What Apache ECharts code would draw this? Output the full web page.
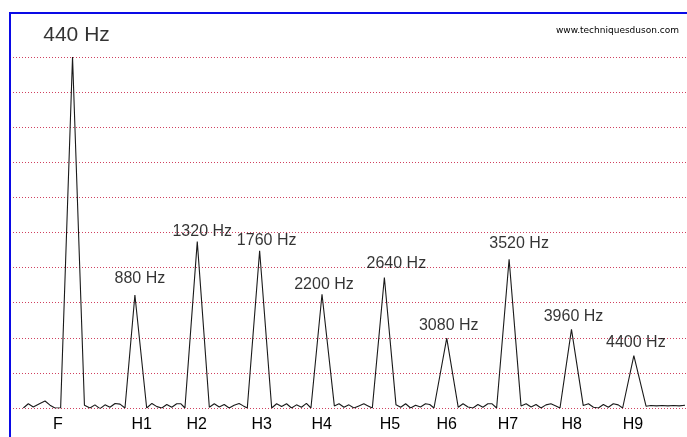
<!DOCTYPE html>
<html>
<head>
<meta charset="utf-8">
<script src="https://cdn.jsdelivr.net/npm/echarts@6/dist/echarts.min.js"></script>
<style>
html,body{margin:0;padding:0;background:#fff;}
#chart{width:687px;height:437px;}
</style>
</head>
<body>
<div id="chart"></div>
<script>
// Spectrum trace (frequency in Hz, relative amplitude)
const freqHz = [
  93, 128, 163, 210, 246, 281, 316, 356,
  440, 524,
  563, 598, 634, 669, 704, 740, 775, 810,
  880, 963,
  1000, 1035, 1070, 1105, 1140, 1175, 1205, 1233,
  1320, 1405,
  1440, 1475, 1510, 1545, 1580, 1615, 1645, 1673,
  1760, 1845,
  1880, 1915, 1950, 1985, 2020, 2055, 2090, 2122,
  2200, 2287,
  2320, 2355, 2390, 2425, 2460, 2495, 2525, 2555,
  2640, 2722,
  2755, 2790, 2825, 2860, 2895, 2930, 2960, 2990,
  3080, 3161,
  3195, 3230, 3265, 3300, 3335, 3370, 3400, 3432,
  3520, 3604,
  3640, 3675, 3710, 3745, 3780, 3815, 3850, 3879,
  3960, 4043,
  4080, 4115, 4150, 4185, 4220, 4255, 4290, 4321,
  4400, 4486,
  4520, 4560, 4600, 4640, 4680, 4720, 4761
];
const amplitude = [
  0.0, 0.12, 0.03, 0.13, 0.2, 0.08, 0.0, 0.0,
  10.0, 0.08,
  0.0, 0.09, -0.02, 0.09, 0.02, 0.13, 0.11, 0.0,
  3.22, 0.0,
  0.13, 0.04, 0.0, 0.1, 0.02, 0.12, 0.12, 0.0,
  4.74, 0.02,
  0.12, 0.03, 0.1, 0.0, 0.08, 0.13, 0.06, 0.0,
  4.48, 0.0,
  0.12, 0.04, 0.12, 0.0, 0.09, 0.02, 0.13, 0.0,
  3.24, 0.06,
  0.12, 0.02, 0.09, 0.0, 0.06, 0.12, 0.06, 0.0,
  3.72, 0.09,
  0.02, 0.12, 0.0, 0.08, 0.03, 0.12, 0.1, 0.0,
  1.99, 0.02,
  0.12, 0.03, 0.0, 0.1, 0.02, 0.12, 0.12, 0.0,
  4.24, 0.06,
  0.12, 0.03, 0.1, 0.0, 0.09, 0.12, 0.06, 0.0,
  2.24, 0.07,
  0.12, 0.02, 0.0, 0.1, 0.02, 0.12, 0.09, 0.0,
  1.49, 0.05,
  0.07, 0.06, 0.07, 0.06, 0.07, 0.06, 0.08
];

// Peaks (fundamental + harmonics)
const peakHz  = [440, 880, 1320, 1760, 2200, 2640, 3080, 3520, 3960, 4400];
const peakAmp = [10.0, 3.22, 4.74, 4.48, 3.24, 3.72, 1.99, 4.24, 2.24, 1.49];

// Axis tick labels
const harmonicNames   = ['F', 'H1', 'H2', 'H3', 'H4', 'H5', 'H6', 'H7', 'H8', 'H9'];
const harmonicLabelHz = [337, 928, 1316, 1774, 2198, 2680, 3080, 3512, 3961, 4394];

// Style: label offsets (px) relative to each peak
const peakLabelOffset = [[4,-22],[5,-16],[5,-10],[7,-10],[2,-10],[12,-14],[2,-13],[10,-16],[2,-13],[2,-13]];

const chart = echarts.init(document.getElementById('chart'), null, {renderer: 'canvas'});
const FONT = 'Liberation Sans, Arial, sans-serif';

const option = {
  backgroundColor: '#ffffff',
  animation: false,
  title: {
    text: 'www.techniquesduson.com',
    right: 3,
    top: 21,
    textStyle: {fontSize: 9, fontWeight: 'normal', color: '#000', fontFamily: 'DejaVu Sans, Verdana, sans-serif'}
  },
  grid: {left: 13, right: 0, top: 57, bottom: 29, containLabel: false},
  xAxis: {
    type: 'value',
    min: 20,
    max: 4775,
    axisLine: {show: false},
    axisTick: {show: false},
    splitLine: {show: false},
    axisLabel: {
      customValues: harmonicLabelHz,
      formatter: function (v) {
        const i = harmonicLabelHz.indexOf(v);
        return i >= 0 ? harmonicNames[i] : '';
      },
      margin: 9,
      fontSize: 16,
      color: '#000',
      fontFamily: FONT
    }
  },
  yAxis: {
    type: 'value',
    min: 0,
    max: 10,
    interval: 1,
    axisLine: {show: false},
    axisTick: {show: false},
    axisLabel: {show: false},
    splitLine: {show: true, lineStyle: {color: '#d0405f', width: 1, type: [1, 2]}}
  },
  series: [
    {
      type: 'line',
      data: freqHz.map((f, i) => [f, amplitude[i]]),
      symbol: 'none',
      lineStyle: {color: '#1a1a1a', width: 1.1},
      z: 3
    },
    {
      type: 'scatter',
      data: peakHz.map((f, i) => ({
        value: [f, peakAmp[i]],
        label: {
          offset: peakLabelOffset[i],
          fontSize: i === 0 ? 21 : 16
        }
      })),
      symbolSize: 0,
      silent: true,
      label: {
        show: true,
        position: 'inside',
        align: 'center',
        verticalAlign: 'middle',
        color: '#000',
        fontFamily: FONT,
        formatter: p => p.value[0] + ' Hz'
      },
      z: 4
    }
  ],
  graphic: [
    {type: 'line', shape: {x1: 10, y1: 13, x2: 10, y2: 437}, style: {stroke: '#0a0ae6', lineWidth: 2}, z: 10},
    {type: 'line', shape: {x1: 9, y1: 13, x2: 687, y2: 13}, style: {stroke: '#0a0ae6', lineWidth: 2}, z: 10}
  ]
};
chart.setOption(option);
</script>
</body>
</html>
